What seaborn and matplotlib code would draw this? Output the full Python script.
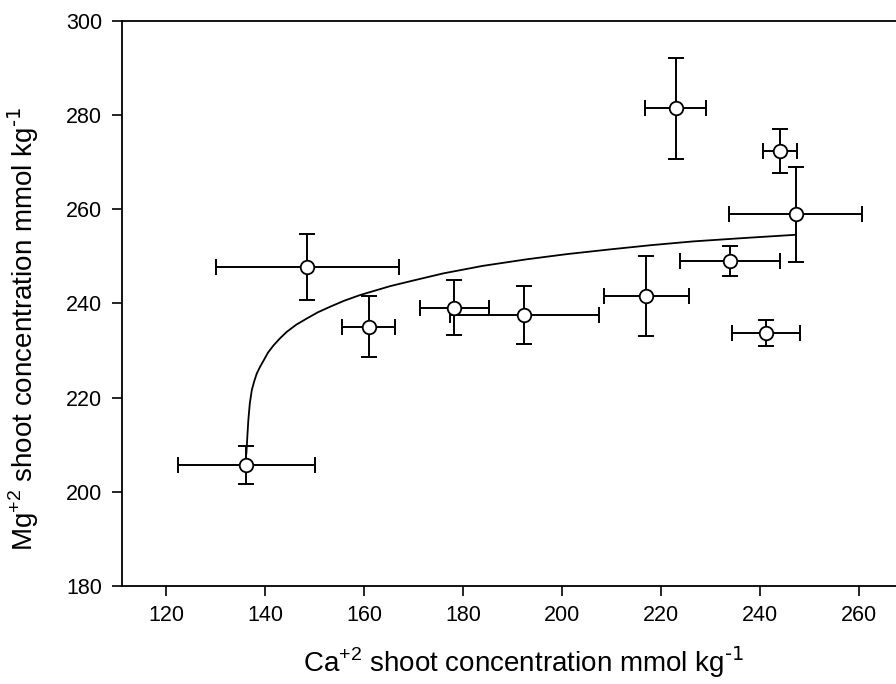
import matplotlib
matplotlib.use("Agg")
import matplotlib.pyplot as plt
import seaborn as sns
import pandas as pd

# point means and standard errors
ca_mean = [136.2, 148.5, 160.9, 178.2, 192.4, 217.0, 223.0, 233.9, 241.2, 244.1, 247.2]
ca_err = [13.9, 18.5, 5.4, 7.0, 15.0, 8.6, 6.2, 10.1, 6.9, 3.4, 13.5]
mg_mean = [205.6, 247.8, 235.1, 239.1, 237.5, 241.6, 281.5, 249.1, 233.7, 272.4, 259.0]
mg_err = [4.0, 7.0, 6.5, 5.9, 6.2, 8.6, 10.7, 3.2, 2.8, 4.7, 10.1]

# fitted curve
fit_x = [136.2, 136.4, 136.6, 136.9, 137.3, 137.8, 138.3, 139.0, 139.7, 140.6, 141.7,
         143.0, 144.4, 146.3, 148.4, 150.6, 153.1, 156.0, 159.2, 165.3, 170.0,
         176.0, 184.0, 192.9, 201.0, 209.7, 218.0, 226.5, 236.5, 247.1]
fit_y = [208.0, 211.8, 215.2, 218.8, 221.6, 223.5, 225.1, 226.6, 227.9, 229.6, 231.1,
         232.6, 234.0, 235.5, 236.8, 238.1, 239.3, 240.6, 241.8, 243.7, 244.9,
         246.4, 248.0, 249.4, 250.5, 251.5, 252.4, 253.2, 253.9, 254.6]

pts = pd.DataFrame({"ca": ca_mean, "mg": mg_mean})
fit = pd.DataFrame({"ca": fit_x, "mg": fit_y})

sns.set_style("ticks")
plt.rcParams["font.family"] = ["Liberation Sans", "DejaVu Sans"]
plt.rcParams["mathtext.default"] = "regular"
plt.rcParams["text.color"] = "black"
plt.rcParams["axes.labelcolor"] = "black"
plt.rcParams["xtick.color"] = "black"
plt.rcParams["ytick.color"] = "black"

fig = plt.figure(figsize=(8.96, 6.84), dpi=100)
ax = fig.add_axes([0.1358, 0.1437, 0.878, 0.8252])

sns.lineplot(data=fit, x="ca", y="mg", ax=ax, color="black", linewidth=1.3,
             sort=False, estimator=None, zorder=2)
ax.errorbar(ca_mean, mg_mean, xerr=ca_err, yerr=mg_err, fmt="none",
            ecolor="black", elinewidth=1.4, capsize=6, capthick=1.4, zorder=3)
sns.scatterplot(data=pts, x="ca", y="mg", ax=ax, s=95, marker="o",
                facecolor="white", edgecolor="black", linewidth=1.3, zorder=4)

ax.set_xlim(111, 270)
ax.set_ylim(180, 300)
ax.set_xticks(range(120, 261, 20))
ax.set_yticks(range(180, 301, 20))
ax.tick_params(axis="both", labelsize=15.5, length=7, width=1.2,
               colors="black", direction="out")
ax.tick_params(axis="x", pad=7)
ax.tick_params(axis="y", pad=7)
for side in ["left", "bottom", "top", "right"]:
    ax.spines[side].set_visible(True)
    ax.spines[side].set_linewidth(1.3)
    ax.spines[side].set_color("black")

ax.set_xlabel("Ca$^{+2}$ shoot concentration mmol kg$^{\\text{-1}}$", fontsize=20)
ax.set_ylabel("Mg$^{+2}$ shoot concentration mmol kg$^{\\text{-1}}$", fontsize=20)
ax.xaxis.set_label_coords(0.511, -0.104)
ax.yaxis.set_label_coords(-0.102, 0.455)

fig.savefig("out.png", dpi=100)
